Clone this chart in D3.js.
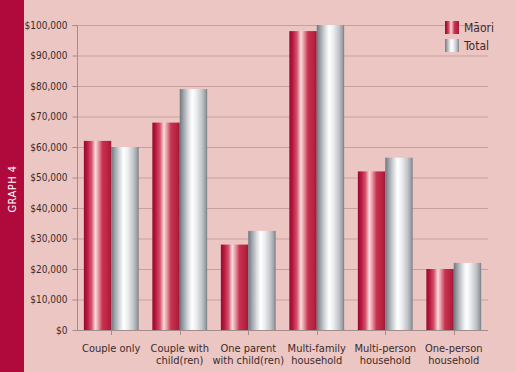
<!DOCTYPE html>
<html>
<head>
<meta charset="utf-8">
<script src="https://cdn.jsdelivr.net/npm/d3@7"></script>
<style>
  html, body { margin: 0; padding: 0; background: #ecc6c3; }
  svg { display: block; }
</style>
</head>
<body>
<div id="chart"></div>
<script>
///////////////////////////
// DATA
///////////////////////////

const categories = [
    ['Couple only'],
    ['Couple with', 'child(ren)'],
    ['One parent', 'with child(ren)'],
    ['Multi-family', 'household'],
    ['Multi-person', 'household'],
    ['One-person', 'household']
];
const series = ['Māori', 'Total'];
const maoriValues = [62000, 68000, 28000, 98000, 52000, 20000];
const totalValues = [60000, 79000, 32500, 100000, 56500, 22000];
const yTicks = [0, 10000, 20000, 30000, 40000, 50000, 60000, 70000, 80000, 90000, 100000];

///////////////////////////
// CHART
///////////////////////////

const width = 516;
const height = 372;
const plotLeft = 77, plotRight = 488, plotTop = 25, plotBottom = 330;
const font = '"DejaVu Sans Condensed", "DejaVu Sans", sans-serif';

const svg = d3.select('#chart')
    .append('svg')
    .attr('width', width)
    .attr('height', height);

svg.append('rect')
    .attr('width', width)
    .attr('height', height)
    .attr('fill', '#ecc6c3');

// side band
svg.append('rect')
    .attr('x', 0).attr('y', 0)
    .attr('width', 24).attr('height', height)
    .attr('fill', '#b00a3c');

svg.append('text')
    .attr('transform', 'translate(16,189) rotate(-90)')
    .attr('text-anchor', 'middle')
    .attr('fill', '#fff')
    .style('font-family', font)
    .style('font-size', '11px')
    .style('letter-spacing', '0.5px')
    .text('GRAPH 4');

// gradients
const defs = svg.append('defs');
const addGradient = (id, stops) => {
    const g = defs.append('linearGradient')
        .attr('id', id)
        .attr('x1', '0%').attr('x2', '100%')
        .attr('y1', '0%').attr('y2', '0%');
    stops.forEach(s => {
        g.append('stop').attr('offset', s[0]).attr('stop-color', s[1]);
    });
};
addGradient('grad-maori', [
    ['0%', '#98082f'], ['12%', '#b8173e'], ['28%', '#d4546c'],
    ['42%', '#f7dcdc'], ['52%', '#e8a0a8'], ['68%', '#c7324f'],
    ['90%', '#b5213f'], ['100%', '#9a1a3a']
]);
addGradient('grad-total', [
    ['0%', '#6f767e'], ['12%', '#9aa0a6'], ['30%', '#d6d9dc'],
    ['45%', '#ffffff'], ['60%', '#eceef0'], ['80%', '#c4c7cb'],
    ['93%', '#9ea3a8'], ['100%', '#767c83']
]);

const x0 = d3.scaleBand()
    .domain(d3.range(categories.length))
    .range([plotLeft, plotRight])
    .paddingInner(0.2)
    .paddingOuter(0.1);

const x1 = d3.scaleBand()
    .domain(series)
    .range([0, x0.bandwidth()]);

const y = d3.scaleLinear()
    .domain([0, 100000])
    .range([plotBottom, plotTop]);

// gridlines
svg.append('g')
    .selectAll('line')
    .data(yTicks.slice(1))
    .enter().append('line')
    .attr('x1', plotLeft).attr('x2', plotRight)
    .attr('y1', d => y(d) + 0.5).attr('y2', d => y(d) + 0.5)
    .attr('stroke', '#c9a09f')
    .attr('stroke-width', 1);

// y axis
const yAxis = svg.append('g')
    .attr('transform', `translate(${plotLeft + 0.5},0)`)
    .call(d3.axisLeft(y)
        .tickValues(yTicks)
        .tickSize(5)
        .tickPadding(5)
        .tickFormat(d => '$' + d3.format(',')(d)));
yAxis.selectAll('path, line').attr('stroke', '#a58c8c');
yAxis.select('.domain').attr('d', `M-5,${plotTop + 0.5}H0V${plotBottom + 0.5}`);
yAxis.selectAll('text')
    .attr('fill', '#3a2b2b')
    .style('font-family', font)
    .style('font-size', '10px');

// bars
const data = categories.map((c, i) => ({ i: i, values: [maoriValues[i], totalValues[i]] }));

const groups = svg.selectAll('.group')
    .data(data)
    .enter().append('g')
    .attr('class', 'group')
    .attr('transform', d => `translate(${x0(d.i)},0)`);

groups.selectAll('rect')
    .data(d => d.values.map((v, k) => ({ key: series[k], value: v })))
    .enter().append('rect')
    .attr('x', d => x1(d.key))
    .attr('y', d => y(d.value))
    .attr('width', x1.bandwidth())
    .attr('height', d => plotBottom - y(d.value))
    .attr('fill', d => d.key === 'Māori' ? 'url(#grad-maori)' : 'url(#grad-total)');

// x axis
const xAxis = svg.append('g');
xAxis.append('line')
    .attr('x1', plotLeft).attr('x2', plotRight)
    .attr('y1', plotBottom + 0.5).attr('y2', plotBottom + 0.5)
    .attr('stroke', '#a58c8c');
xAxis.selectAll('.tick')
    .data(categories)
    .enter().append('line')
    .attr('x1', (d, i) => Math.round(x0(i) + x0.bandwidth() / 2) + 0.5)
    .attr('x2', (d, i) => Math.round(x0(i) + x0.bandwidth() / 2) + 0.5)
    .attr('y1', plotBottom)
    .attr('y2', plotBottom + 5)
    .attr('stroke', '#a58c8c');

const labels = xAxis.selectAll('.xlabel')
    .data(categories)
    .enter().append('text')
    .attr('class', 'xlabel')
    .attr('text-anchor', 'middle')
    .attr('fill', '#3a2b2b')
    .style('font-family', font)
    .style('font-size', '11px')
    .attr('transform', (d, i) => `translate(${x0(i) + x0.bandwidth() / 2},${plotBottom + 22})`);

labels.selectAll('tspan')
    .data(d => d)
    .enter().append('tspan')
    .attr('x', 0)
    .attr('dy', (d, k) => k === 0 ? 0 : 12)
    .text(d => d);

// legend
const legend = svg.append('g')
    .attr('transform', 'translate(445,21)');

const legendItem = legend.selectAll('g')
    .data(series)
    .enter().append('g')
    .attr('transform', (d, i) => `translate(0,${i * 18})`);

legendItem.append('rect')
    .attr('width', 14)
    .attr('height', 13)
    .attr('fill', d => d === 'Māori' ? 'url(#grad-maori)' : 'url(#grad-total)');

legendItem.append('text')
    .attr('x', 19)
    .attr('y', 11)
    .attr('fill', '#3a2b2b')
    .style('font-family', font)
    .style('font-size', '12px')
    .text(d => d);
</script>
</body>
</html>
